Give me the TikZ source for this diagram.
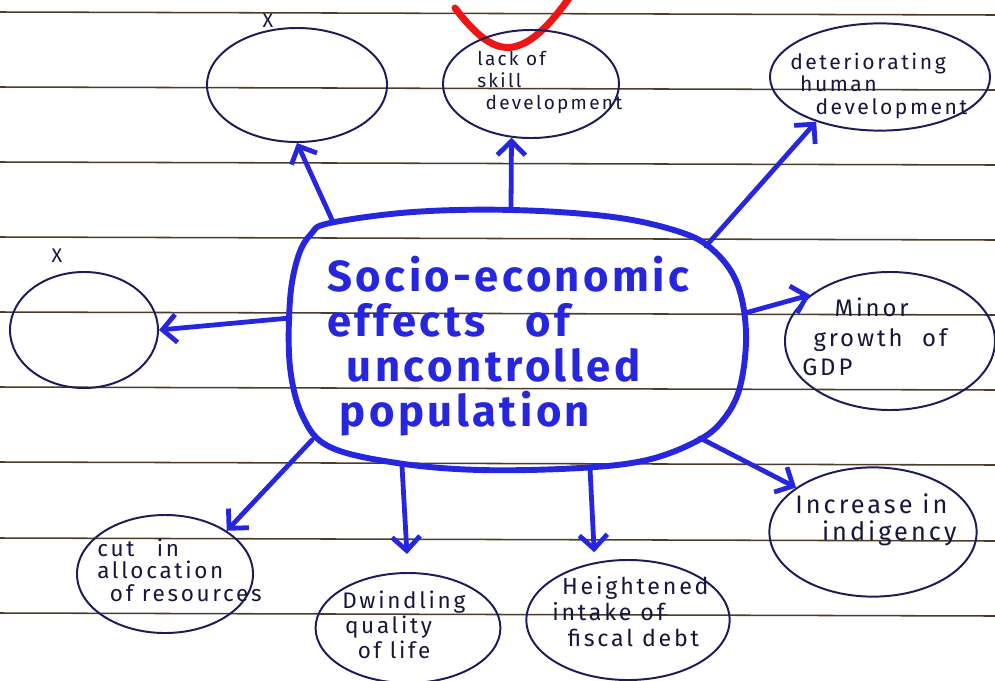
\documentclass[tikz,border=0pt]{standalone}
\usepackage{fontspec}
\setmainfont{Fira Sans}
\newfontfamily\hand[LetterSpace=12]{Fira Sans}
\newfontfamily\bighand[LetterSpace=8]{Fira Sans}
\usetikzlibrary{shapes.geometric,arrows.meta}
\definecolor{pen}{RGB}{38,38,222}
\definecolor{navy}{RGB}{28,28,92}
\definecolor{ink}{RGB}{22,22,60}
\definecolor{linec}{RGB}{78,60,42}
\definecolor{redpen}{RGB}{236,22,22}
\tikzset{
  paper/.style={draw=linec, line width=1.1pt},
  ell/.style={ellipse, draw=navy, line width=1.4pt, inner sep=0pt},
  arr/.style={draw=pen, line width=3.4pt, line cap=round, -{Straight Barb[length=3.5mm,width=7mm]}},
  blob/.style={draw=pen, line width=4.2pt},
  lbl/.style={text=ink, align=left, anchor=west, inner sep=0pt},
  xmark/.style={text=ink, inner sep=0pt, font=\hand\fontsize{14pt}{16pt}\selectfont},
  centre/.style={text=pen, align=left, anchor=west, inner sep=0pt,
    font=\bighand\bfseries\fontsize{31pt}{32pt}\selectfont},
  redmark/.style={draw=redpen, line width=5pt, line cap=round}
}
\begin{document}
\begin{tikzpicture}[x=0.025cm,y=-0.025cm]
\useasboundingbox[fill=white] (0,0) rectangle (995,680);
% ruled paper
\foreach \yy in {12,87,162,237,312,387,462,538,613}{
  \draw[paper] (0,\yy) -- (995,{\yy+3});
}
% red mark
\draw[redmark] (455,8) .. controls (478,38) and (495,50) .. (513,47) .. controls (535,43) and (555,18) .. (572,-6);

% central blob and its text
\draw[blob] plot[smooth cycle, tension=0.6] coordinates {(330,223) (413,212) (513,210) (613,217) (680,232) (713,250) (737,283) (746,333) (740,387) (723,420) (697,441) (647,460) (580,468) (480,470) (397,463) (330,447) (303,417) (290,367) (290,300) (298,257) (311,234)};
\node[centre] (c) at (327,346) {Socio-economic\\effects\hspace{28pt}of\\\hspace{14pt}uncontrolled\\\hspace{9pt}population};
\coordinate (c1) at (333,222);
\coordinate (c2) at (511,210);
\coordinate (c3) at (706,246);
\coordinate (c4) at (290,318);
\coordinate (c5) at (745,313);
\coordinate (c6) at (700,438);
\coordinate (c7) at (312,440);
\coordinate (c8) at (402,466);
\coordinate (c9) at (590,468);

% ellipses
\node[ell, minimum width=4.5cm, minimum height=2.85cm] (e1) at (297,85) {};
\node[ell, minimum width=4.4cm, minimum height=2.7cm] (e2) at (531,84) {};
\node[ell, minimum width=5.5cm, minimum height=2.68cm] (e3) at (880,77) {};
\node[ell, minimum width=3.7cm, minimum height=2.9cm] (e4) at (84,330) {};
\node[ell, minimum width=5.25cm, minimum height=3.45cm] (e5) at (890,341) {};
\node[ell, minimum width=5.18cm, minimum height=3.23cm] (e6) at (873,532) {};
\node[ell, minimum width=4.4cm, minimum height=2.95cm] (e7) at (165,574) {};
\node[ell, minimum width=4.62cm, minimum height=2.75cm] (e8) at (408,628) {};
\node[ell, minimum width=5.08cm, minimum height=3.0cm] (e9) at (628,620) {};

% labels
\node[xmark] (x1) at (268,21) {X};
\node[xmark] (x4) at (57,256) {X};
\node[lbl, font=\hand\fontsize{13.5pt}{15.6pt}\selectfont] (t2) at (477,82) {lack of\\skill\\\hspace{6pt}development};
\node[lbl, font=\hand\fontsize{15pt}{16pt}\selectfont] (t3) at (790,86) {deteriorating\\\hspace{7pt}human\\\hspace{18pt}development};
\node[lbl, font=\hand\fontsize{17pt}{21pt}\selectfont] (t5) at (802,337) {\hspace{23pt}Minor\\\hspace{8pt}growth\hspace{14pt}of\\GDP};
\node[lbl, font=\hand\fontsize{18pt}{19pt}\selectfont] (t6) at (795,520) {Increase in\\\hspace{19pt}indigency};
\node[lbl, font=\hand\fontsize{16pt}{16pt}\selectfont] (t7) at (97,570) {cut\hspace{16pt}in\\allocation\\\hspace{9pt}of resources};
\node[lbl, font=\hand\fontsize{16pt}{18pt}\selectfont] (t8) at (342,625) {Dwindling\\\hspace{2pt}quality\\\hspace{11pt}of life};
\node[lbl, font=\hand\fontsize{16.5pt}{18.5pt}\selectfont] (t9) at (552,612) {\hspace{7pt}Heightened\\intake of\\\hspace{11pt}fiscal debt};

% connectors
\draw[arr] (c1) -- (e1.south);
\draw[arr] (c2) -- (e2.250);
\draw[arr] (c3) -- (e3.215);
\draw[arr] (c4) -- (e4.east);
\draw[arr] (c5) -- (e5.150);
\draw[arr] (c6) -- (e6.150);
\draw[arr] (c7) -- (e7.35);
\draw[arr, shorten >=0.45cm] (c8) -- (e8.north);
\draw[arr, shorten >=0.25cm] (c9) -- (e9.120);
\end{tikzpicture}
\end{document}
